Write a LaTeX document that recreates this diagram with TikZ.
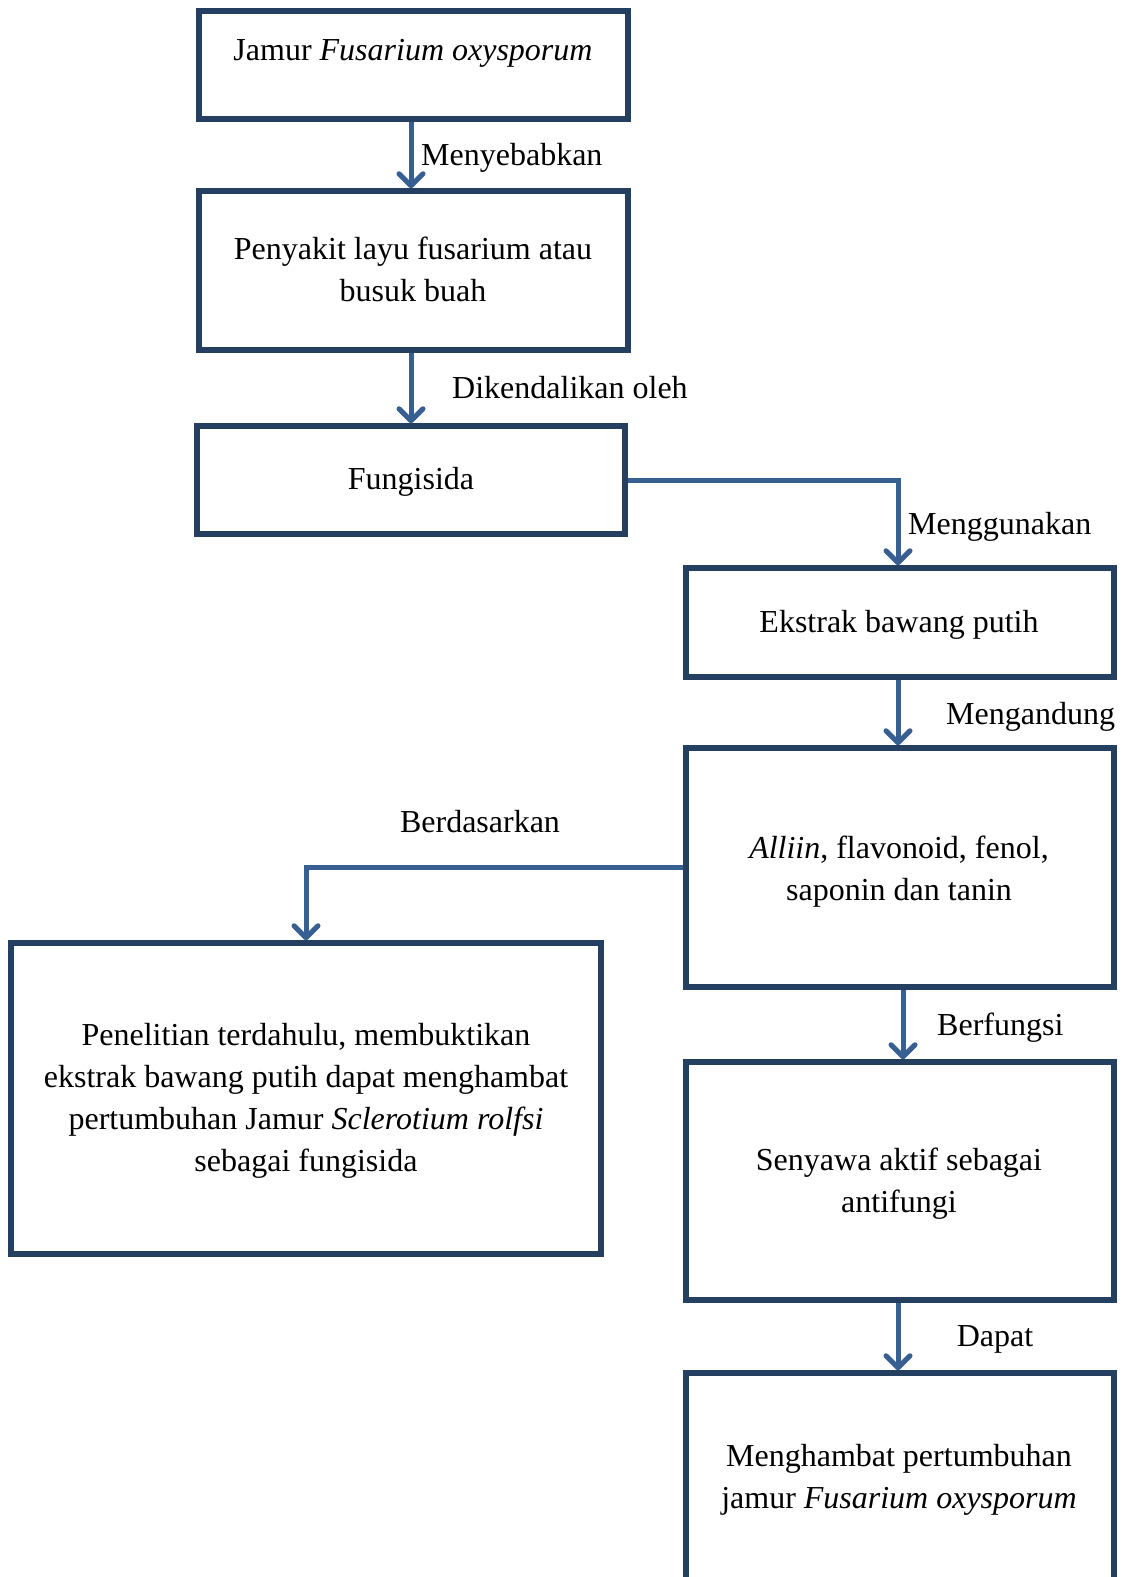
\documentclass[tikz,border=0pt]{standalone}
\usepackage{fontspec}
\setmainfont{Liberation Serif}
\usetikzlibrary{arrows.meta}
\definecolor{boxc}{HTML}{243F60}
\definecolor{linec}{HTML}{385F92}
\begin{document}
\begin{tikzpicture}[x=1pt,y=-1pt,
  box/.style={draw=boxc,line width=5.5pt,inner sep=0pt,fill=none},
  txt/.style={inner sep=0pt,align=center,font=\fontsize{32}{42}\selectfont},
  lbl/.style={inner sep=0pt,font=\fontsize{32}{42}\selectfont},
  conn/.style={draw=linec,line width=5pt,-{Straight Barb[length=12pt,width=24pt,line cap=round,line join=round]}},
  wire/.style={draw=linec,line width=5pt}]
\useasboundingbox (0,0) rectangle (1127,1577);
\clip (0,0) rectangle (1127,1577);
% boxes
\node[box,minimum width=429pt,minimum height=108pt] (b1) at (413.5,65) {};
\node[box,minimum width=429pt,minimum height=159pt] (b2) at (413.5,270.5) {};
\node[box,minimum width=428pt,minimum height=108pt] (b3) at (411,480) {};
\node[box,minimum width=428pt,minimum height=109pt] (b4) at (900,622.5) {};
\node[box,minimum width=428pt,minimum height=239pt] (b5) at (900,867.5) {};
\node[box,minimum width=590pt,minimum height=311pt] (b6) at (306,1098.5) {};
\node[box,minimum width=428pt,minimum height=238pt] (b7) at (900,1181) {};
\node[box,minimum width=428pt,minimum height=260pt] (b8) at (900,1503) {};
% texts
\node[txt] (t1) at (413,53) {Jamur \textit{Fusarium oxysporum}};
\node[txt] (t2) at (413,269) {Penyakit layu fusarium atau\\busuk buah};
\node[txt] (t3) at (411,482) {Fungisida};
\node[txt] (t4) at (899,625) {Ekstrak bawang putih};
\node[txt] (t5) at (899,872) {\textit{Alliin}, flavonoid, fenol,\\saponin dan tanin};
\node[txt] (t6) at (306,1101) {Penelitian terdahulu, membuktikan\\ekstrak bawang putih dapat menghambat\\pertumbuhan Jamur \textit{Sclerotium rolfsi}\\sebagai fungisida};
\node[txt] (t7) at (899,1184) {Senyawa aktif sebagai\\antifungi};
\node[txt] (t8) at (899,1480) {Menghambat pertumbuhan\\jamur \textit{Fusarium oxysporum}};
% connectors
\draw[conn] ([xshift=-2.5pt]b1.south) -- ([xshift=-2.5pt]b2.north);
\draw[conn] ([xshift=-2.5pt]b2.south) -- ([xshift=-2.5pt]b2.south |- b3.north);
\draw[conn] (b3.east) -| ([xshift=-2pt]b4.north);
\draw[conn] ([xshift=-2pt]b4.south) -- ([xshift=-2pt]b5.north);
\draw[conn] (b5.west) -| (b6.north);
\draw[conn] ([xshift=3pt]b5.south) -- ([xshift=3pt]b7.north);
\draw[conn] ([xshift=-2pt]b7.south) -- ([xshift=-2pt]b8.north);
% labels
\node[lbl,anchor=west] (l1) at (421,158) {Menyebabkan};
\node[lbl,anchor=west] (l2) at (452,388) {Dikendalikan oleh};
\node[lbl,anchor=west] (l3) at (908,527) {Menggunakan};
\node[lbl,anchor=west] (l4) at (946,717) {Mengandung};
\node[lbl] (l5) at (480,822) {Berdasarkan};
\node[lbl,anchor=west] (l6) at (937,1028) {Berfungsi};
\node[lbl] (l7) at (995,1339) {Dapat};
\end{tikzpicture}
\end{document}
